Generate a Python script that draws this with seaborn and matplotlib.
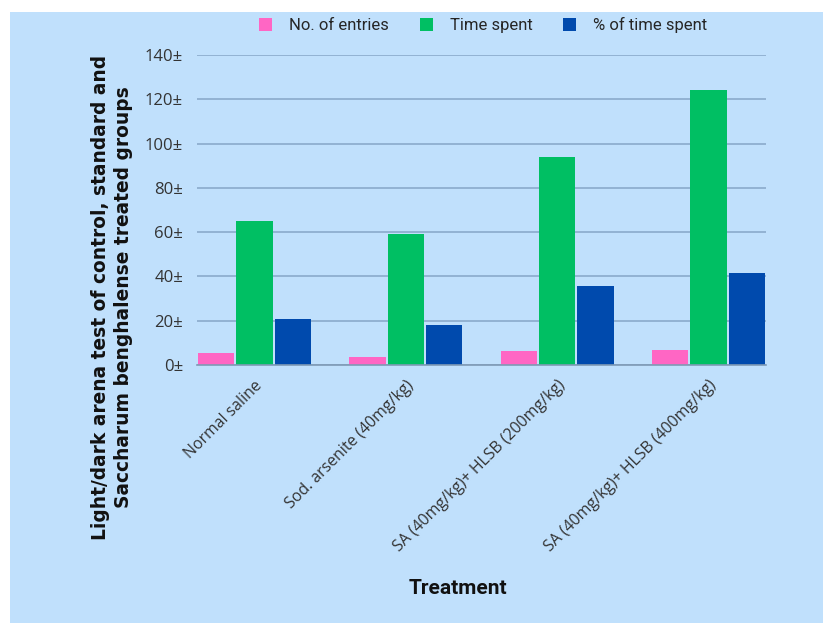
import matplotlib
matplotlib.use("Agg")
import matplotlib.pyplot as plt
import seaborn as sns
import pandas as pd
from matplotlib.patches import Rectangle

categories = ["Normal saline", "Sod. arsenite (40mg/kg)",
              "SA (40mg/kg)+ HLSB (200mg/kg)", "SA (40mg/kg)+ HLSB (400mg/kg)"]
series_names = ["No. of entries", "Time spent", "% of time spent"]
entries = [5.3, 3.6, 6.2, 7.0]
time_spent = [65.1, 59.0, 94.1, 124.1]
pct_time = [20.8, 17.9, 35.8, 41.4]
y_ticks = [0, 20, 40, 60, 80, 100, 120, 140]
y_tick_labels = [f"{v}±" for v in y_ticks]
colors = ["#FF66C4", "#00BF63", "#004AAD"]

rows = []
for name, vals in zip(series_names, [entries, time_spent, pct_time]):
    for c, v in zip(categories, vals):
        rows.append({"Treatment": c, "Series": name, "Value": v})
df = pd.DataFrame(rows)

sns.set_theme(style="white")
W, H = 823, 623
fig = plt.figure(figsize=(W / 100, H / 100), dpi=100, facecolor="white")
bg = "#C0E0FC"
fig.patches.append(Rectangle((10 / W, 0), 1 - 10 / W, (H - 12) / H,
                             transform=fig.transFigure, facecolor=bg,
                             edgecolor="none", zorder=-10))

ax = fig.add_axes([197 / W, 1 - 365 / H, (766 - 197) / W, (365 - 55) / H])
ax.set_facecolor(bg)
ax.patch.set_alpha(0)

sns.barplot(data=df, x="Treatment", y="Value", hue="Series",
            hue_order=series_names, order=categories, palette=colors,
            width=0.76, gap=0.06, saturation=1, linewidth=0, ax=ax, zorder=3,
            legend=True)

ax.set_xlim(-0.38, 3.38)
ax.set_ylim(0, 140)
ax.set_yticks(y_ticks)
ax.set_yticklabels(y_tick_labels, fontsize=12, color="#333333", family="Open Sans")
ax.yaxis.grid(True, color="#8AAACB", linewidth=1.2, zorder=0)
ax.set_axisbelow(True)
for s in ["top", "right", "left"]:
    ax.spines[s].set_visible(False)
ax.spines["bottom"].set_color("#7F9AB5")
ax.spines["bottom"].set_linewidth(1.2)
ax.spines["bottom"].set_zorder(4)
ax.tick_params(axis="y", length=0, pad=10)
ax.tick_params(axis="x", length=0, pad=9)
ax.set_xticks(range(len(categories)))
ax.set_xticklabels(categories, rotation=45, ha="right", rotation_mode="anchor",
                   fontsize=11.4, color="#333333", family="Open Sans")
ax.set_xlabel("")
ax.set_ylabel("")

leg = ax.get_legend()
handles = leg.legend_handles
leg.remove()
fig.legend(handles, series_names, loc="center", bbox_to_anchor=(483 / W, 1 - 25 / H),
           ncol=3, frameon=False, handlelength=0.8, handleheight=0.8,
           columnspacing=1.85, handletextpad=1.0,
           prop={"family": "Roboto", "size": 12})

fig.text(112 / W, 1 - 297 / H,
         "Light/dark arena test of control, standard and\nSaccharum benghalense treated groups",
         rotation=90, ha="center", va="center", fontsize=13.4, fontweight="bold",
         color="#111111", family="DejaVu Sans", linespacing=1.25)
fig.text(458 / W, 1 - 588 / H, "Treatment", ha="center", va="center",
         fontsize=15, fontweight="bold", color="#111111", family="Roboto")

fig.savefig("out.png", dpi=100, facecolor="white")
